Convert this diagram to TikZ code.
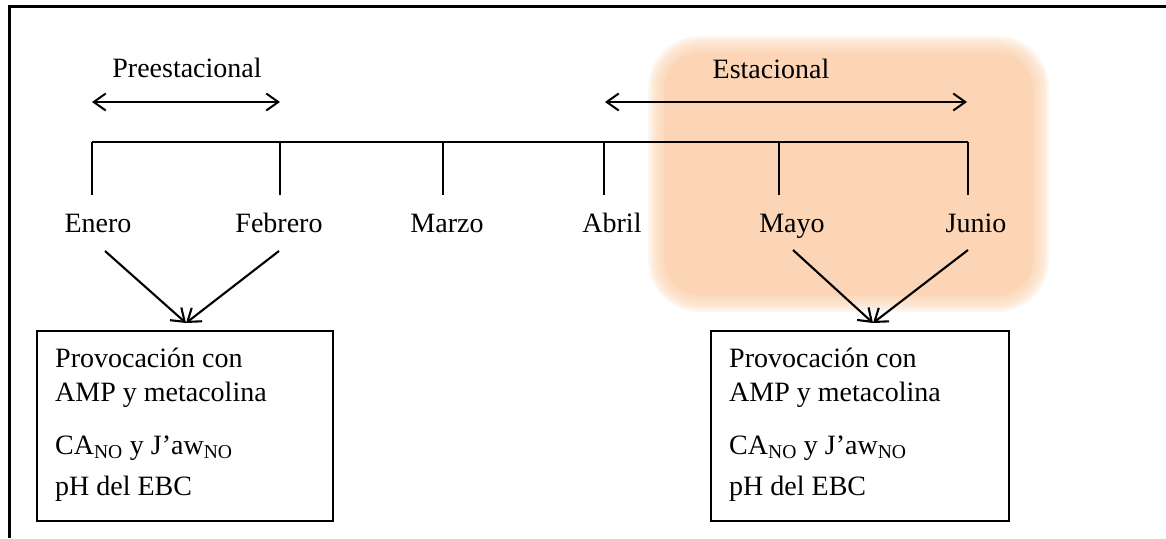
\documentclass[tikz,border=0pt]{standalone}
\usepackage{fontspec}
\setmainfont{Liberation Serif}
\usetikzlibrary{arrows.meta}
\definecolor{peach}{RGB}{251,213,181}
\tikzset{
  lbl/.style={font=\fontsize{28}{34}\selectfont, inner sep=0pt},
  txt/.style={font=\fontsize{28}{34}\selectfont, inner sep=0pt, anchor=base west},
  tl/.style={line width=2pt},
  dbl/.style={line width=2pt, {Straight Barb[length=12pt,width=17pt]}-{Straight Barb[length=12pt,width=17pt]}},
  arr/.style={line width=2.1pt, -{Straight Barb[length=12pt,width=17pt]}},
  box/.style={draw, line width=2pt, minimum width=296pt, minimum height=190pt, inner sep=0pt},
  frame/.style={line width=3pt}
}
\begin{document}
\begin{tikzpicture}[x=1pt,y=-1pt]
\useasboundingbox (0,0) rectangle (1166,538);
% glow
\fill[peach, rounded corners=36pt] (664,52) rectangle (1033,296);
\foreach \i in {1,...,8}{
  \pgfmathsetmacro{\rr}{36+\i*2}
  \pgfmathsetmacro{\xa}{664-\i*2}
  \pgfmathsetmacro{\ya}{52-\i*2}
  \pgfmathsetmacro{\xb}{1033+\i*2}
  \pgfmathsetmacro{\yb}{296+\i*2}
  \fill[peach, opacity=0.2, rounded corners=\rr pt] (\xa,\ya) rectangle (\xb,\yb);
}
% frame
\draw[frame] (8,6) -- (1166,6);
\draw[frame] (9,6) -- (9,538);
% period labels and arrows
\node[lbl, anchor=base] (pre) at (187,77) {Preestacional};
\node[lbl, anchor=base] (est) at (771,78) {Estacional};
\coordinate (pL) at (92,102);
\coordinate (pR) at (280,102);
\coordinate (eL) at (605,102);
\coordinate (eR) at (967,102);
\draw[dbl] (pL) -- (pR);
\draw[dbl] (eL) -- (eR);
% timeline
\coordinate (t1) at (92,142);
\coordinate (t2) at (280,142);
\coordinate (t3) at (443,142);
\coordinate (t4) at (604,142);
\coordinate (t5) at (779,142);
\coordinate (t6) at (968,142);
\draw[tl] (t1) -- (t6);
\foreach \t in {t1,t2,t3,t4,t5,t6}{ \draw[tl] (\t) -- ++(0,53); }
% months
\node[lbl, anchor=base] (ene) at (98,232) {Enero};
\node[lbl, anchor=base] (feb) at (279,232) {Febrero};
\node[lbl, anchor=base] (mar) at (447,232) {Marzo};
\node[lbl, anchor=base] (abr) at (612,232) {Abril};
\node[lbl, anchor=base] (may) at (792,232) {Mayo};
\node[lbl, anchor=base] (jun) at (976,232) {Junio};
% boxes
\node[box] (bL) at (185,426) {};
\node[box, minimum width=298pt] (bR) at (860,426) {};
% arrows
\coordinate (a1) at (105,251);
\coordinate (a2) at (279,251);
\coordinate (a3) at (793,250);
\coordinate (a4) at (968,250);
\coordinate (tipL) at (186,323);
\coordinate (tipR) at (873,323);
\draw[arr] (a1) -- (tipL);
\draw[arr] (a2) -- (tipL);
\draw[arr] (a3) -- (tipR);
\draw[arr] (a4) -- (tipR);
% box texts
\node[txt] (l1) at (55,367) {Provocación con};
\node[txt] (l2) at (55,401) {AMP y metacolina};
\node[txt] (l3) at (55,454) {CA\textsubscript{NO} y J’aw\textsubscript{NO}};
\node[txt] (l4) at (55,495) {pH del EBC};
\node[txt] (r1) at (729,367) {Provocación con};
\node[txt] (r2) at (729,401) {AMP y metacolina};
\node[txt] (r3) at (729,454) {CA\textsubscript{NO} y J’aw\textsubscript{NO}};
\node[txt] (r4) at (729,495) {pH del EBC};
\end{tikzpicture}
\end{document}
